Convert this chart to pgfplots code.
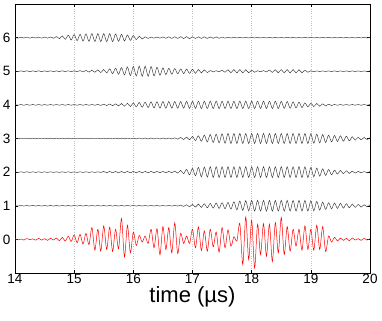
\documentclass[border=0pt]{standalone}
\usepackage{fontspec}
\setmainfont{Liberation Sans}
\usepackage{pgfplots}
\usepackage{pgfplotstable}
\pgfplotsset{compat=1.18}

% one row per half period; columns are the traces at offsets 6..1 and the red sum at 0
\pgfplotstableread{
t c6 c5 c4 c3 c2 c1 c0
14.00 6.015 5.015 4.012 3.010 2.010 1.010 0.020
14.05 5.985 4.985 3.988 2.990 1.990 0.990 -0.015
14.10 6.012 5.012 4.012 3.010 2.010 1.010 0.010
14.15 5.988 4.988 3.988 2.990 1.990 0.990 -0.020
14.20 6.015 5.015 4.012 3.010 2.010 1.010 0.025
14.25 5.985 4.985 3.988 2.990 1.990 0.990 -0.010
14.30 6.012 5.012 4.012 3.010 2.010 1.010 0.015
14.35 5.988 4.988 3.988 2.990 1.990 0.990 -0.025
14.40 6.015 5.015 4.012 3.010 2.010 1.010 0.030
14.45 5.985 4.985 3.988 2.990 1.990 0.990 -0.020
14.50 6.015 5.012 4.012 3.010 2.010 1.010 0.020
14.55 5.985 4.988 3.988 2.990 1.990 0.990 -0.030
14.60 6.020 5.015 4.012 3.010 2.010 1.010 0.035
14.65 5.980 4.985 3.988 2.990 1.990 0.990 -0.020
14.70 6.030 5.012 4.012 3.010 2.010 1.010 0.040
14.75 5.970 4.988 3.988 2.990 1.990 0.990 -0.040
14.80 6.050 5.015 4.012 3.010 2.010 1.010 0.060
14.85 5.950 4.985 3.988 2.990 1.990 0.990 -0.050
14.90 6.070 5.015 4.012 3.010 2.010 1.010 0.090
14.95 5.930 4.985 3.988 2.990 1.990 0.990 -0.060
15.00 6.090 5.015 4.012 3.010 2.010 1.010 0.130
15.05 5.910 4.985 3.988 2.990 1.990 0.990 -0.100
15.10 6.100 5.020 4.012 3.010 2.010 1.010 0.150
15.15 5.900 4.980 3.988 2.990 1.990 0.990 -0.140
15.20 6.110 5.025 4.012 3.010 2.010 1.010 0.180
15.25 5.890 4.975 3.988 2.990 1.990 0.990 -0.160
15.30 6.120 5.030 4.012 3.010 2.010 1.010 0.350
15.35 5.880 4.970 3.988 2.990 1.990 0.990 -0.320
15.40 6.120 5.040 4.015 3.010 2.010 1.010 0.300
15.45 5.880 4.960 3.985 2.990 1.990 0.990 -0.350
15.50 6.120 5.050 4.020 3.010 2.020 1.010 0.400
15.55 5.880 4.950 3.980 2.990 1.980 0.990 -0.300
15.60 6.120 5.070 4.025 3.010 2.020 1.010 0.360
15.65 5.880 4.930 3.975 2.990 1.980 0.990 -0.360
15.70 6.110 5.090 4.030 3.010 2.020 1.010 0.300
15.75 5.890 4.910 3.970 2.990 1.980 0.990 -0.280
15.80 6.100 5.110 4.040 3.010 2.020 1.010 0.620
15.85 5.900 4.890 3.960 2.990 1.980 0.990 -0.520
15.90 6.080 5.130 4.050 3.010 2.020 1.010 0.420
15.95 5.920 4.870 3.950 2.990 1.980 0.990 -0.400
16.00 6.060 5.140 4.060 3.010 2.020 1.010 0.220
16.05 5.940 4.860 3.940 2.990 1.980 0.990 -0.180
16.10 6.040 5.150 4.070 3.015 2.020 1.010 0.120
16.15 5.960 4.850 3.930 2.985 1.980 0.990 -0.080
16.20 6.025 5.150 4.080 3.015 2.020 1.010 0.100
16.25 5.975 4.850 3.920 2.985 1.980 0.990 -0.120
16.30 6.015 5.140 4.090 3.015 2.020 1.010 0.300
16.35 5.985 4.860 3.910 2.985 1.980 0.990 -0.250
16.40 6.015 5.120 4.095 3.015 2.020 1.010 0.320
16.45 5.985 4.880 3.905 2.985 1.980 0.990 -0.460
16.50 6.020 5.100 4.100 3.015 2.020 1.010 0.380
16.55 5.980 4.900 3.900 2.985 1.980 0.990 -0.300
16.60 6.025 5.090 4.100 3.015 2.020 1.010 0.350
16.65 5.975 4.910 3.900 2.985 1.980 0.990 -0.400
16.70 6.025 5.080 4.100 3.020 2.030 1.010 0.490
16.75 5.975 4.920 3.900 2.980 1.970 0.990 -0.420
16.80 6.030 5.070 4.100 3.030 2.050 1.020 0.180
16.85 5.970 4.930 3.900 2.970 1.950 0.980 -0.120
16.90 6.030 5.065 4.105 3.040 2.080 1.030 0.100
16.95 5.970 4.935 3.895 2.960 1.920 0.970 -0.120
17.00 6.025 5.060 4.105 3.060 2.110 1.040 0.300
17.05 5.975 4.940 3.895 2.940 1.890 0.960 -0.250
17.10 6.025 5.050 4.110 3.080 2.140 1.050 0.370
17.15 5.975 4.950 3.890 2.920 1.860 0.950 -0.330
17.20 6.025 5.040 4.110 3.100 2.150 1.060 0.250
17.25 5.975 4.960 3.890 2.900 1.850 0.940 -0.350
17.30 6.020 5.020 4.110 3.120 2.160 1.070 0.300
17.35 5.980 4.980 3.890 2.880 1.840 0.930 -0.220
17.40 6.020 5.015 4.110 3.130 2.160 1.080 0.220
17.45 5.980 4.985 3.890 2.870 1.840 0.920 -0.380
17.50 6.015 5.030 4.110 3.140 2.160 1.090 0.350
17.55 5.985 4.970 3.890 2.860 1.840 0.910 -0.250
17.60 6.012 5.045 4.110 3.150 2.160 1.100 0.280
17.65 5.988 4.955 3.890 2.850 1.840 0.900 -0.200
17.70 6.010 5.050 4.110 3.150 2.160 1.120 0.080
17.75 5.990 4.950 3.890 2.850 1.840 0.880 -0.050
17.80 6.010 5.050 4.110 3.150 2.160 1.140 0.470
17.85 5.990 4.950 3.890 2.850 1.840 0.860 -0.750
17.90 6.010 5.045 4.110 3.150 2.160 1.150 0.670
17.95 5.990 4.955 3.890 2.850 1.840 0.850 -0.600
18.00 6.010 5.030 4.110 3.150 2.160 1.160 0.570
18.05 5.990 4.970 3.890 2.850 1.840 0.840 -0.850
18.10 6.010 5.015 4.110 3.150 2.160 1.160 0.450
18.15 5.990 4.985 3.890 2.850 1.840 0.840 -0.450
18.20 6.010 5.020 4.110 3.150 2.160 1.160 0.470
18.25 5.990 4.980 3.890 2.850 1.840 0.840 -0.500
18.30 6.010 5.035 4.110 3.150 2.160 1.160 0.450
18.35 5.990 4.965 3.890 2.850 1.840 0.840 -0.660
18.40 6.010 5.045 4.110 3.150 2.160 1.160 0.500
18.45 5.990 4.955 3.890 2.850 1.840 0.840 -0.400
18.50 6.010 5.050 4.105 3.150 2.160 1.160 0.650
18.55 5.990 4.950 3.895 2.850 1.840 0.840 -0.450
18.60 6.010 5.050 4.100 3.150 2.160 1.160 0.380
18.65 5.990 4.950 3.900 2.850 1.840 0.840 -0.350
18.70 6.010 5.050 4.090 3.150 2.160 1.160 0.300
18.75 5.990 4.950 3.910 2.850 1.840 0.840 -0.200
18.80 6.010 5.045 4.080 3.150 2.160 1.160 0.300
18.85 5.990 4.955 3.920 2.850 1.840 0.840 -0.320
18.90 6.010 5.030 4.060 3.150 2.160 1.160 0.400
18.95 5.990 4.970 3.940 2.850 1.840 0.840 -0.300
19.00 6.010 5.015 4.050 3.140 2.140 1.150 0.300
19.05 5.990 4.985 3.950 2.860 1.860 0.850 -0.320
19.10 6.010 5.010 4.040 3.130 2.120 1.130 0.420
19.15 5.990 4.990 3.960 2.870 1.880 0.870 -0.300
19.20 6.010 5.010 4.030 3.120 2.100 1.110 0.380
19.25 5.990 4.990 3.970 2.880 1.900 0.890 -0.360
19.30 6.010 5.010 4.020 3.100 2.080 1.090 0.100
19.35 5.990 4.990 3.980 2.900 1.920 0.910 -0.080
19.40 6.010 5.010 4.012 3.090 2.060 1.080 0.060
19.45 5.990 4.990 3.988 2.910 1.940 0.920 -0.050
19.50 6.010 5.010 4.012 3.080 2.050 1.070 0.040
19.55 5.990 4.990 3.988 2.920 1.950 0.930 -0.030
19.60 6.010 5.010 4.012 3.070 2.040 1.060 0.030
19.65 5.990 4.990 3.988 2.930 1.960 0.940 -0.040
19.70 6.010 5.010 4.012 3.050 2.030 1.050 0.040
19.75 5.990 4.990 3.988 2.950 1.970 0.950 -0.020
19.80 6.010 5.010 4.012 3.040 2.020 1.040 0.020
19.85 5.990 4.990 3.988 2.960 1.980 0.960 -0.030
19.90 6.010 5.010 4.012 3.030 2.015 1.030 0.030
19.95 5.990 4.990 3.988 2.970 1.985 0.970 -0.020
20.00 6.010 5.010 4.012 3.020 2.015 1.030 0.020
}\traces

\begin{document}
\begin{tikzpicture}
\begin{axis}[
  width=355pt, height=269pt, scale only axis,
  xmin=14, xmax=20, ymin=-1, ymax=7,
  xtick={14,...,20}, ytick={0,...,6},
  xmajorgrids, grid style={dotted, black!25},
  tick align=inside, major tick length=3pt,
  tick style={black, line width=0.4pt},
  axis line style={black, line width=0.5pt},
  /pgf/number format/assume math mode=true,
  tick label style={font=\fontsize{13.5}{14}\selectfont},
  yticklabel style={xshift=-1pt},
  xticklabel style={yshift=2pt},
  xlabel={time (µs)},
  xlabel style={font=\fontsize{22}{24}\selectfont, yshift=4pt},
  every axis plot/.append style={smooth, tension=0.5},
]
\addplot[black!80, line width=0.45pt] table[x=t, y=c6] {\traces};
\addplot[black!80, line width=0.45pt] table[x=t, y=c5] {\traces};
\addplot[black!80, line width=0.45pt] table[x=t, y=c4] {\traces};
\addplot[black!80, line width=0.45pt] table[x=t, y=c3] {\traces};
\addplot[black!80, line width=0.45pt] table[x=t, y=c2] {\traces};
\addplot[black!80, line width=0.45pt] table[x=t, y=c1] {\traces};
\addplot[red, line width=0.5pt] table[x=t, y=c0] {\traces};
\end{axis}
\pgfresetboundingbox
\path[use as bounding box] ([shift={(-15pt,-48pt)}]current axis.south west)
  rectangle ([shift={(12pt,4pt)}]current axis.north east);
\end{tikzpicture}
\end{document}
